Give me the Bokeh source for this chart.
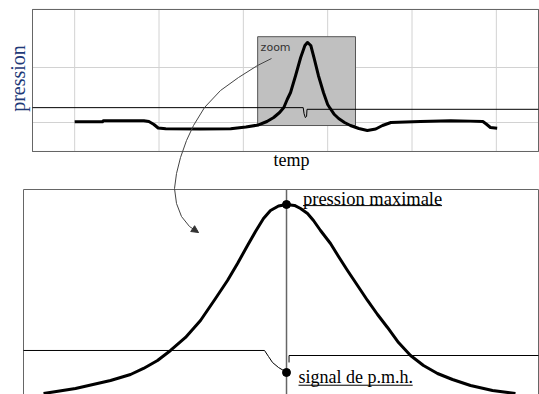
from bokeh.plotting import figure
from bokeh.models import Range1d, Arrow, NormalHead
from bokeh.core.properties import value
from bokeh.embed import file_html
from bokeh.resources import INLINE
import math

# ---------------- data: overview (top) ----------------
# time (arbitrary units, frame 0..600) and cylinder pressure (bar)
top_t = [50, 83, 84, 132, 138, 144, 149, 158, 199, 235, 253, 268, 278, 286, 293,
         298, 302, 306, 312, 318, 323, 326, 330, 334, 339, 345, 350, 353, 358,
         363, 370, 377, 387, 397, 407, 415, 425, 460, 496, 519, 534, 538, 543, 551]
top_p = [10.13, 10.13, 10.33, 10.33, 10.18, 9.64, 9.0, 8.85, 8.82, 8.85, 9.18, 9.55,
         10.18, 10.91, 11.82, 12.73, 14.18, 15.45, 18.55, 21.82, 24.0, 24.55, 24.0,
         21.64, 18.55, 15.45, 13.27, 12.55, 11.45, 10.73, 10.0, 9.45, 8.91, 8.55,
         8.82, 9.45, 10.0, 10.18, 10.31, 10.25, 10.18, 9.73, 9.09, 8.96]
# PMH (TDC) signal on the overview
sig_t = [0, 321, 322, 323.5, 325, 325.5, 600]
sig_p = [12.7, 12.7, 11.6, 10.9, 11.1, 12.4, 12.4]
grid_t = [50, 150, 250, 350, 450, 550]
grid_p = [10, 20]
top_t_extent = [0, 600]
top_p_extent = [4.73, 30.55]
zoom_t = [267, 383]
zoom_p = [9.45, 25.6]

# ---------------- data: zoomed view (bottom) ----------------
# crank angle (deg) and pressure (bar)
low_a = [-47.18, -40.97, -34.17, -30.29, -27.77, -25.05, -22.52, -19.61, -16.70,
         -13.79, -11.46, -9.51, -7.57, -6.02, -4.47, -3.11, -1.55, 0.0, 1.55, 2.72,
         4.08, 5.24, 6.60, 8.54, 10.10, 11.84, 13.79, 15.73, 17.67, 19.61, 21.75,
         24.08, 26.60, 29.32, 32.23, 35.73, 40.0, 44.46]
low_p = [0.20, 1.23, 2.87, 4.10, 5.33, 6.97, 9.02, 11.68, 15.16, 19.67, 23.36, 26.84,
         30.53, 33.40, 36.06, 37.70, 38.62, 38.93, 38.73, 38.11, 37.09, 35.65, 33.60,
         30.94, 28.28, 25.41, 22.33, 19.26, 16.39, 13.73, 10.65, 7.99, 5.94, 4.30,
         3.07, 1.84, 0.82, 0.20]
sigL_a = [-51.07, -4.27, -3.5, -2.72, -1.55, -0.58, 0.0]
sigL_p = [9.02, 9.02, 7.79, 6.56, 5.53, 4.92, 4.51]
sigR_a = [0.49, 0.49, 48.93]
sigR_p = [6.56, 7.99, 7.99]
peak_a, peak_p = 0.0, 38.93
pmh_a, pmh_p = 0.0, 4.51
low_a_extent = [-51.07, 48.93]
low_p_top = 42

# ---------------- layout helpers (page pixel geometry) ----------------
X0, X1, Y_BOT, Y_TOP = 0, 539, 394, 0


def span(px_a, val_a, px_b, val_b, px_lo, px_hi):
    k = (val_b - val_a) / (px_b - px_a)
    return Range1d(start=val_a + (px_lo - px_a) * k, end=val_a + (px_hi - px_a) * k)


p = figure(width=539, height=394, x_range=Range1d(X0, X1), y_range=Range1d(Y_BOT, Y_TOP),
           toolbar_location=None, output_backend="svg", min_border=0,
           x_axis_location=None, y_axis_location=None)
p.xgrid.visible = False
p.ygrid.visible = False
p.outline_line_color = None
p.background_fill_color = "white"
p.border_fill_color = "white"

p.extra_x_ranges = {"tx": span(32, 0, 538, 600, X0, X1),
                    "lx": span(23, -51.07, 538, 48.93, X0, X1)}
p.extra_y_ranges = {"ty": span(122, 10, 67, 20, Y_BOT, Y_TOP),
                    "ly": span(394, 0, 189, 42, Y_BOT, Y_TOP)}
T = dict(x_range_name="tx", y_range_name="ty")
L = dict(x_range_name="lx", y_range_name="ly")

# ---- top panel ----
p.quad(left=top_t_extent[0], right=top_t_extent[1], bottom=top_p_extent[0], top=top_p_extent[1],
       fill_color="white", line_color="#666666", line_width=1, **T)
p.segment(x0=grid_t, y0=[top_p_extent[0]] * len(grid_t), x1=grid_t, y1=[top_p_extent[1]] * len(grid_t),
          line_color="#d2d2d2", line_width=1, **T)
p.segment(x0=[top_t_extent[0]] * len(grid_p), y0=grid_p, x1=[top_t_extent[1]] * len(grid_p), y1=grid_p,
          line_color="#d2d2d2", line_width=1, **T)
p.quad(left=top_t_extent[0], right=top_t_extent[1], bottom=top_p_extent[0], top=top_p_extent[1],
       fill_alpha=0, line_color="#666666", line_width=1, **T)
p.quad(left=zoom_t[0], right=zoom_t[1], bottom=zoom_p[0], top=zoom_p[1],
       fill_color="#c0c0c0", line_color="#555555", line_width=1, **T)
p.line(sig_t, sig_p, line_color="black", line_width=1, **T)
p.line(top_t, top_p, line_color="black", line_width=3, line_join="round", **T)
p.text(x=[270.5], y=[23.6], text=["zoom"], text_font=value("DejaVu Sans"), text_font_size="11px",
       text_color="#333333", text_baseline="middle", text_align="left", **T)

p.text(x=[17.5], y=[78], text=["pression"], angle=math.pi / 2, text_font=value("Liberation Serif"),
       text_font_size="20px", text_color="#1f3a78", text_align="center", text_baseline="middle")
p.text(x=[291], y=[159], text=["temp"], text_font=value("Liberation Serif"),
       text_font_size="18px", text_color="black", text_align="center", text_baseline="middle")

# ---- bottom panel ----
p.quad(left=low_a_extent[0], right=low_a_extent[1], bottom=-5, top=low_p_top,
       fill_color="white", line_color="#666666", line_width=1, **L)
p.segment(x0=[0], y0=[-5], x1=[0], y1=[low_p_top], line_color="#666666", line_width=1.5, **L)
p.line(sigL_a, sigL_p, line_color="black", line_width=1, **L)
p.line(sigR_a, sigR_p, line_color="black", line_width=1, **L)
p.line(low_a, low_p, line_color="black", line_width=3, line_join="round", **L)
p.scatter(x=[peak_a, pmh_a], y=[peak_p, pmh_p], size=8, color="black", **L)

p.text(x=[3.2], y=[40.1], text=["pression maximale"], text_font=value("Liberation Serif"),
       text_font_size="18.5px", text_color="black", text_baseline="middle", **L)
p.segment(x0=[3.2], y0=[38.7], x1=[30.2], y1=[38.7], line_color="black", line_width=1, **L)
p.text(x=[2.33], y=[3.6], text=["signal de p.m.h."], text_font=value("Liberation Serif"),
       text_font_size="18px", text_color="black", text_baseline="middle", **L)
p.segment(x0=[2.33], y0=[1.9], x1=[24.5], y1=[1.9], line_color="black", line_width=1, **L)

# ---- curved arrow (page pixel geometry) ----
arrow_x = [271, 257, 238, 220, 204, 193, 186, 180, 176, 174, 176, 181, 189, 198]
arrow_y = [58, 65, 77, 90, 107, 125, 140, 157, 173, 188, 203, 216, 226, 232]
p.line(arrow_x, arrow_y, line_color="#444444", line_width=1)
p.add_layout(Arrow(end=NormalHead(size=7, fill_color="#333333", line_color="#333333"),
                   x_start=arrow_x[-2], y_start=arrow_y[-2], x_end=arrow_x[-1], y_end=arrow_y[-1],
                   line_alpha=0))

open("out.html", "w").write(file_html(p, INLINE))
